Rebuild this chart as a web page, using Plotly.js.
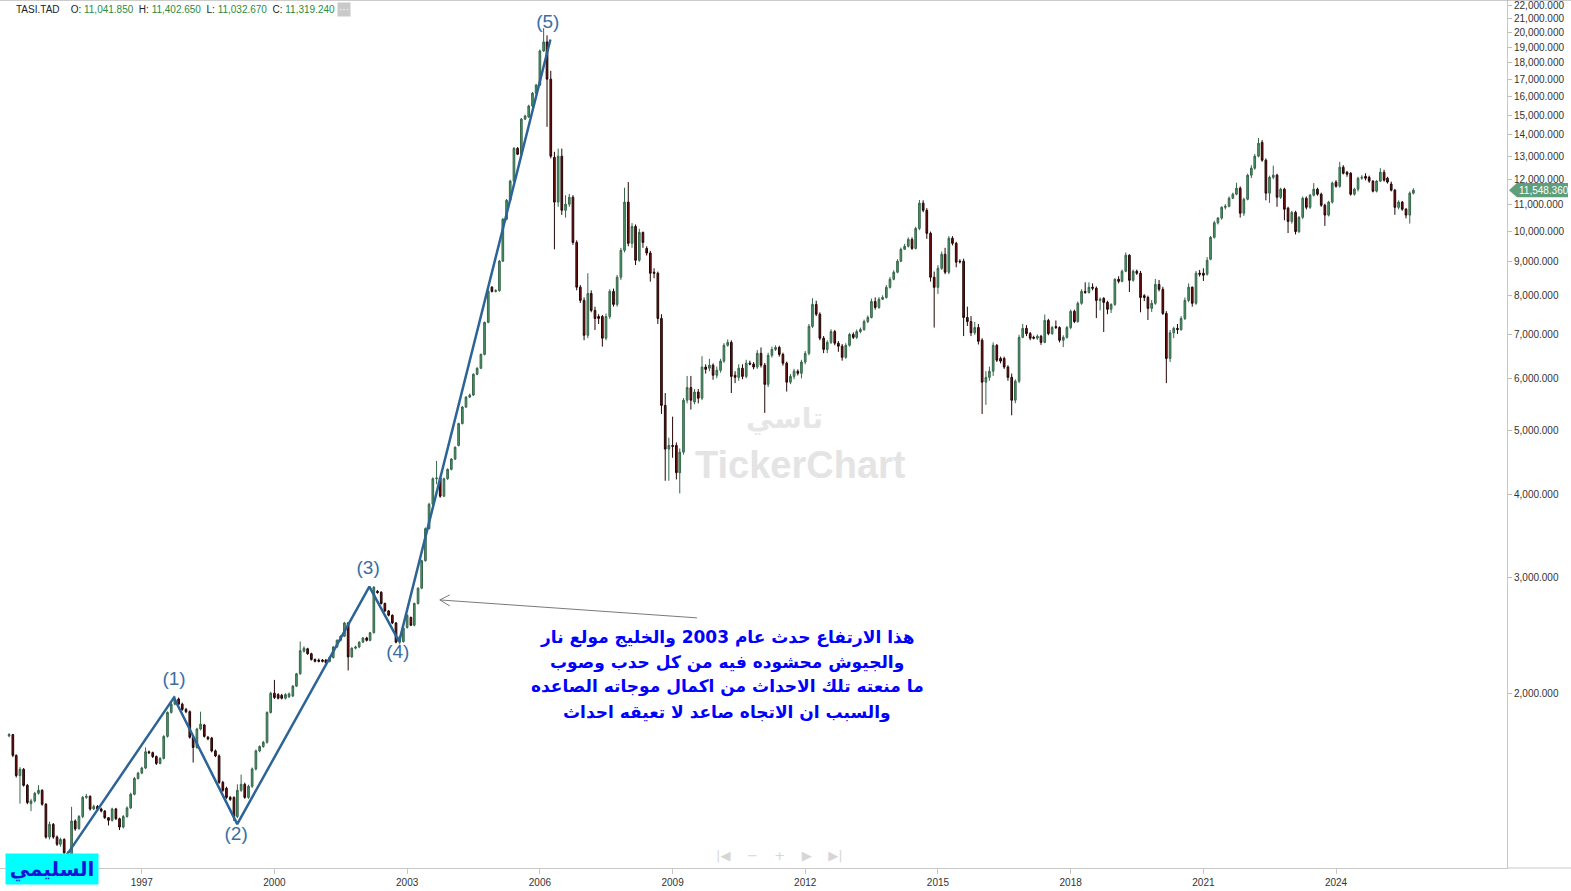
<!DOCTYPE html>
<html>
<head>
<meta charset="utf-8">
<script src="https://cdn.plot.ly/plotly-3.0.1.min.js"></script>
<style>
html,body{margin:0;padding:0;background:#fff;}
#chart{width:1571px;height:891px;}
</style>
</head>
<body>
<div id="chart"></div>
<script>
// ---------------- DATA (monthly TASI candles, Jan 1994 .. Oct 2025) ----------------
const START_YEAR = 1994;

const open = [
1728,1736,1615,1505,1538,1455,1365,1378,1415,1430,1362,1215,
1270,1215,1185,1205,1150,1140,1285,1252,1305,1395,1400,1340,
1352,1340,1330,1300,1288,1340,1295,1258,1305,1345,1410,1490,
1518,1545,1635,1630,1608,1570,1598,1725,1875,1930,1965,1930,
1895,1880,1720,1660,1770,1795,1720,1715,1640,1612,1470,1440,
1395,1395,1305,1430,1460,1395,1450,1540,1640,1665,1690,1875,
2005,1995,1990,1970,1980,1985,2055,2145,2320,2340,2300,2255,
2250,2250,2250,2240,2270,2355,2410,2445,2560,2275,2345,2355,
2395,2430,2410,2475,2860,2850,2740,2670,2630,2560,2395,2400,
2520,2610,2540,2740,2890,3180,3555,3870,4230,4240,3980,4230,
4370,4530,4750,5125,5430,5620,5660,6085,6215,6520,7290,8240,
8120,8140,9020,10440,11150,11920,13360,13090,14790,14900,15480,16190,
16650,18750,19350,17000,12950,11080,13000,10770,11000,11270,9630,8240,
7870,6970,8060,7600,7440,7440,6900,7440,8120,7760,8530,9370,
11080,9600,10180,9050,9970,9430,9280,8680,8650,7390,5460,4690,
4750,4750,4320,4640,5560,5810,5525,5720,5600,6240,6215,6280,
6065,6170,6370,6730,6800,6065,6020,6215,6040,6325,6305,6240,
6545,6280,5875,6500,6635,6680,6520,6325,5920,6040,6150,6105,
6350,6545,7190,7760,7500,6900,6635,6800,7060,6780,6710,6455,
6730,6990,6920,7060,7110,7310,7415,7840,7680,7900,7950,8235,
8470,8680,9020,9400,9500,9730,9430,10110,11040,10770,9940,8530,
8235,8800,9240,8680,9770,9600,9020,9020,7415,7310,7030,7160,
6850,5920,6020,6150,6730,6430,6430,6240,6020,5560,5940,6920,
7140,7010,6920,6900,6945,6800,7340,7010,7185,7160,6850,6920,
7160,7575,7310,7790,8120,8090,8240,8210,7870,7925,7815,7630,
7760,8470,8410,8710,9210,8440,8710,8650,8000,7950,7655,7790,
8320,8180,7520,6430,7030,7140,7110,7390,7870,8240,7790,8650,
8650,8620,9080,9800,10310,10480,10880,10920,11230,11390,11630,10660,
11190,12170,12470,13000,13640,12820,11430,12080,12170,11270,11590,10850,
10360,10690,10000,10510,11230,10880,11350,11590,11390,10960,10590,11080,
11880,11710,12510,12290,12250,11390,11590,12040,12120,12080,11920,11510,
11920,12290,12040,11800,11550,10880,11080,10810,10590,11430
];

const high = [
1745,1740,1620,1550,1545,1462,1388,1422,1455,1435,1368,1282,
1276,1222,1212,1210,1156,1350,1292,1312,1402,1412,1405,1360,
1358,1346,1335,1302,1346,1345,1300,1312,1352,1418,1498,1525,
1552,1660,1642,1636,1614,1605,1732,1882,1940,1985,1975,1940,
1905,1888,1725,1778,1880,1802,1728,1722,1648,1620,1478,1448,
1402,1400,1460,1510,1468,1458,1548,1648,1672,1698,1882,2015,
2100,2005,2000,2005,2010,2062,2152,2400,2360,2348,2308,2262,
2262,2258,2258,2278,2362,2418,2452,2570,2568,2352,2365,2402,
2438,2440,2482,2910,2870,2858,2748,2678,2638,2568,2448,2522,
2638,2618,2748,2898,3190,3570,3890,4250,4500,4260,4245,4385,
4545,4735,5140,5450,5640,5690,6105,6235,6540,7310,8150,8270,
8180,9060,10480,11200,11980,13420,13420,14850,15020,15550,16260,16720,
18850,20300,19800,17500,13200,13350,13350,11350,11400,11350,9700,8300,
7950,8650,8150,7700,7500,7480,7520,8180,8200,8600,9450,11650,
11880,10300,10250,10100,10000,9500,9350,8800,8700,7500,5700,4880,
5250,4800,4700,5600,6050,6050,5780,5780,6480,6300,6420,6320,
6250,6420,6780,6870,6850,6150,6300,6300,6400,6380,6350,6620,
6680,6330,6560,6700,6730,6720,6560,6360,6090,6200,6190,6400,
6600,7250,7930,7860,7550,6950,6850,7120,7100,6830,6760,6780,
7030,7040,7110,7160,7360,7470,7920,7950,7960,8010,8300,8540,
8740,9080,9460,9580,9800,9800,10170,11160,11150,10850,10000,8700,
8900,9330,9450,9840,9840,9650,9080,9100,7700,7450,7300,7250,
6900,6150,6250,6800,6760,6470,6470,6280,6100,5980,6980,7250,
7220,7050,6960,6990,6980,7490,7380,7200,7340,7190,6970,7200,
7620,7620,7840,8180,8380,8380,8350,8260,7950,7960,7860,7790,
8500,8560,8760,9300,9240,8760,8760,8720,8040,8000,7880,8480,
8450,8250,7580,7100,7180,7250,7450,7950,8350,8260,8720,8750,
8800,9150,9850,10380,10520,10920,11000,11300,11450,11850,11700,11250,
12230,12600,13100,13850,13750,12900,12150,12580,12230,11650,11650,10900,
10750,10750,10550,11300,11300,11400,11840,11650,11450,11020,11130,11900,
11960,12750,12600,12350,12300,11650,12100,12170,12250,12150,11960,11960,
12470,12400,12100,11900,11600,11150,11120,10850,11500,11630
];

const low = [
1720,1605,1495,1365,1448,1362,1330,1370,1408,1355,1208,1205,
1208,1178,1175,1142,1130,1135,1242,1246,1298,1388,1332,1335,
1334,1324,1294,1265,1282,1290,1245,1252,1300,1340,1405,1485,
1512,1540,1622,1600,1562,1565,1592,1718,1868,1922,1922,1885,
1870,1712,1575,1652,1762,1718,1702,1632,1605,1462,1422,1388,
1378,1285,1298,1422,1388,1388,1442,1532,1632,1658,1682,1868,
1965,1962,1962,1962,1972,1978,2048,2138,2310,2292,2246,2232,
2232,2232,2222,2232,2262,2348,2402,2438,2170,2268,2335,2345,
2388,2400,2402,2468,2835,2730,2660,2620,2550,2385,2375,2390,
2510,2532,2530,2730,2880,3170,3545,3860,4150,3960,3970,4215,
4355,4515,4735,5110,5410,5600,5640,6065,6195,6500,7270,8090,
8090,8110,9000,10400,11100,11880,13050,13050,14750,14860,15430,16140,
16600,18700,14400,12900,9400,10900,10600,10500,10900,9550,8150,7800,
6850,6900,7550,7100,7250,6700,6850,7380,7700,7700,8450,9300,
9500,9450,8900,9000,9450,9200,8400,8500,7250,5300,4200,4200,
4550,4220,4020,4600,5500,5380,5480,5500,5560,6100,6150,5970,
6000,6120,6330,6700,5700,5900,5950,5980,6000,6280,6190,6200,
6230,5320,5820,6450,6600,6470,6270,5730,5880,5980,6060,6000,
6300,6500,7150,7450,6850,6550,6550,6760,6730,6580,6380,6420,
6700,6880,6880,7020,7080,7270,7390,7620,7640,7880,7920,8200,
8440,8650,8990,9380,9460,9380,9400,10050,10700,9750,8400,7160,
8050,8750,8620,8620,9530,8830,8950,6950,7200,6950,6980,6750,
5300,5470,5950,6050,6350,6320,6200,5950,5275,5500,5900,6900,
6950,6850,6870,6860,6740,6780,6970,6980,7120,6800,6690,6890,
7120,7270,7280,7750,8050,8060,8150,7400,7600,7050,7500,7530,
7720,8350,8380,8680,8100,8400,8600,7550,7850,7350,7560,7750,
8120,7480,5900,6350,6900,7000,7080,7350,7820,7700,7750,8550,
8420,8580,9050,9760,10250,10420,10800,10880,11200,11350,10500,10560,
11150,12050,12400,12950,12750,11150,11050,12000,10900,11200,10400,9950,
10280,9900,9950,10450,10800,10820,11300,11330,10900,10200,10540,11020,
11650,11650,12200,12100,11330,11330,11500,11980,11950,11850,11460,11460,
11880,11900,11820,11500,10600,10800,10750,10470,10280,11380
];

const close = [
1736,1615,1505,1538,1455,1370,1378,1415,1430,1362,1215,1270,
1215,1185,1205,1150,1140,1285,1250,1305,1395,1400,1340,1352,
1340,1330,1300,1288,1340,1295,1258,1305,1345,1410,1490,1518,
1545,1635,1630,1608,1570,1598,1725,1875,1930,1965,1930,1895,
1880,1720,1660,1770,1800,1725,1710,1640,1612,1470,1430,1395,
1385,1305,1430,1460,1395,1450,1540,1640,1665,1690,1875,2005,
1975,1970,1970,1995,2000,2055,2145,2325,2345,2300,2255,2240,
2240,2240,2230,2270,2355,2410,2445,2560,2275,2345,2355,2395,
2430,2410,2475,2900,2845,2740,2670,2630,2560,2395,2440,2515,
2630,2540,2740,2890,3180,3555,3870,4230,4240,3980,4230,4370,
4530,4720,5125,5430,5620,5660,6085,6215,6520,7290,8120,8120,
8140,9020,10440,11150,11920,13360,13090,14790,14950,15480,16190,16650,
18750,19350,17000,13000,11080,13000,10770,11000,11270,9630,8240,7870,
6970,8060,7600,7390,7390,6900,7440,8120,7760,8530,9370,11080,
9600,10180,9050,9970,9630,9280,8650,8650,7390,5460,4690,4750,
4735,4320,4640,5560,5810,5560,5720,5600,6240,6190,6280,6065,
6170,6370,6730,6800,6040,6020,6215,6040,6325,6305,6240,6545,
6280,5875,6500,6635,6680,6520,6325,5920,6040,6150,6105,6350,
6545,7190,7760,7500,6900,6635,6800,7060,6780,6710,6455,6730,
6990,6920,7060,7110,7310,7415,7840,7680,7900,7950,8235,8470,
8680,9020,9400,9500,9730,9430,10110,11040,10770,9940,8530,8235,
8800,9240,8680,9770,9600,8990,9000,7415,7310,7030,7160,6825,
5920,6020,6150,6730,6390,6370,6240,6020,5560,5940,6920,7140,
7010,6900,6900,6945,6800,7340,7010,7160,7160,6850,6920,7160,
7575,7310,7790,8120,8090,8240,8210,7870,7900,7815,7630,7760,
8470,8410,8710,9210,8440,8710,8650,7950,7950,7655,7790,8320,
8180,7520,6430,7030,7140,7110,7390,7870,8240,7790,8650,8620,
8590,9050,9800,10310,10480,10880,10920,11230,11390,11630,10660,11190,
12170,12470,13000,13600,12820,11430,12080,12170,11270,11590,10810,10360,
10690,10000,10510,11230,10880,11350,11590,11390,10960,10590,11080,11840,
11710,12510,12250,12210,11390,11590,12040,12080,12040,11920,11510,11920,
12290,11960,11880,11550,10880,11080,10810,10590,11430,11548
];

// Elliott wave path (1)..(5)
const waveDates  = ['1995-04-20','1997-09-23','1999-02-28','2002-02-23','2002-10-27','2006-03-29'];
const waveValues = [1140, 1974, 1271, 2906, 2399, 19514];
const waveLabels = ['(1)','(2)','(3)','(4)','(5)'];
const waveLabelDates  = ['1997-09-24','1999-02-19','2002-02-13','2002-10-16','2006-03-07'];
const waveLabelValues = [2100, 1224, 3090, 2307, 20660];

// pointer arrow (chevron + shaft)
const arrowDates  = ['2003-12-19','2003-09-28','2003-12-19', null, '2003-09-28','2009-07-21'];
const arrowValues = [2823, 2774, 2717, null, 2774, 2606];

// axis ticks
const yTickVals = [2000,3000,4000,5000,6000,7000,8000,9000,10000,11000,12000,13000,14000,15000,16000,17000,18000,19000,20000,21000,22000];
const xTickYears = ['1997','2000','2003','2006','2009','2012','2015','2018','2021','2024'];

const header = {symbol:'TASI.TAD', O:'11,041.850', H:'11,402.650', L:'11,032.670', C:'11,319.240'};
const lastPrice = 11548.36;

const noteLines = [
  'هذا الارتفاع حدث عام 2003 والخليج مولع نار',
  'والجيوش محشوده فيه من كل حدب وصوب',
  'ما منعته تلك الاحداث من اكمال موجاته الصاعده',
  'والسبب ان الاتجاه صاعد لا تعيقه احداث'
];
const signature = 'السليمي';

// ---------------- CHART ----------------
const months = close.map((_, k) => `${START_YEAR + Math.floor(k / 12)}-${String(k % 12 + 1).padStart(2, '0')}-01`);
const Y0 = Math.log10(1091), Y1 = Math.log10(22392);
const yPaper = v => (Math.log10(v) - Y0) / (Y1 - Y0);
const PLOT_H = 868;
const pyToPaper = py => (PLOT_H - py) / PLOT_H;

const candles = {
  type: 'candlestick',
  x: months, open: open, high: high, low: low, close: close,
  increasing: {line: {color: '#35664a', width: 1}, fillcolor: '#4c9a6c'},
  decreasing: {line: {color: '#220505', width: 1}, fillcolor: '#7a1010'},
  whiskerwidth: 0,
  hoverinfo: 'skip',
  showlegend: false
};

const wave = {
  type: 'scatter', mode: 'lines',
  x: waveDates, y: waveValues,
  line: {color: '#2c6496', width: 2.5},
  hoverinfo: 'skip', showlegend: false
};

const waveText = {
  type: 'scatter', mode: 'text',
  x: waveLabelDates, y: waveLabelValues, text: waveLabels,
  textfont: {family: 'Liberation Sans, Arial, sans-serif', size: 19, color: '#3a6ea5'},
  hoverinfo: 'skip', showlegend: false, cliponaxis: false
};

const arrow = {
  type: 'scatter', mode: 'lines',
  x: arrowDates, y: arrowValues, connectgaps: false,
  line: {color: '#7a7a7a', width: 1},
  hoverinfo: 'skip', showlegend: false
};

const nb = '\u00a0';
const g = s => `<span style="color:#2b8a3e">${s}</span>`;
const headerText = `${header.symbol}${nb}${nb}${nb}${nb}O:${nb}${g(header.O)}${nb}${nb}H:${nb}${g(header.H)}${nb}${nb}L:${nb}${g(header.L)}${nb}${nb}C:${nb}${g(header.C)}`;

const noteAnnotations = noteLines.map((line, k) => ({
  xref: 'paper', yref: 'paper', x: 727 / 1507, y: pyToPaper(637 + 25 * k),
  xanchor: 'center', yanchor: 'middle', showarrow: false,
  text: '<b>' + line + '</b>',
  font: {family: 'DejaVu Sans, sans-serif', size: 17, color: '#0000ff'}
}));

const layout = {
  width: 1571, height: 891,
  margin: {l: 0, r: 64, t: 0, b: 23, pad: 0},
  paper_bgcolor: '#ffffff', plot_bgcolor: '#ffffff',
  showlegend: false,
  font: {family: 'Liberation Sans, Arial, sans-serif', size: 10, color: '#333'},
  xaxis: {
    type: 'date',
    range: ['1993-10-18', '2027-11-13'],
    rangeslider: {visible: false},
    showgrid: false, zeroline: false,
    showline: true, linecolor: '#c8c8c8', linewidth: 1,
    ticks: 'outside', ticklen: 5, tickcolor: '#c8c8c8',
    tickvals: xTickYears.map(y => y + '-01-01'),
    ticktext: xTickYears,
    tickfont: {family: 'Liberation Sans, Arial, sans-serif', size: 10, color: '#333'},
    automargin: false, fixedrange: true
  },
  yaxis: {
    type: 'log', side: 'right',
    range: [Y0, Y1],
    showgrid: false, zeroline: false,
    showline: true, linecolor: '#c8c8c8', linewidth: 1,
    ticks: 'outside', ticklen: 4, tickcolor: '#bdbdbd',
    tickvals: yTickVals,
    ticktext: yTickVals.map(v => v.toLocaleString('en-US', {minimumFractionDigits: 3, maximumFractionDigits: 3})),
    tickfont: {family: 'Liberation Sans, Arial, sans-serif', size: 10, color: '#333'},
    ticklabeloverflow: 'allow',
    automargin: false, fixedrange: true
  },
  shapes: [
    {type: 'line', xref: 'paper', yref: 'paper', x0: 0, x1: 1.0425, y0: 1, y1: 1, line: {color: '#9a9a9a', width: 1}},
    {type: 'line', xref: 'paper', yref: 'paper', x0: 1, x1: 1.0425, y0: 0, y1: 0, line: {color: '#c8c8c8', width: 1}},
    {type: 'path', xref: 'paper', yref: 'paper', fillcolor: '#5e9e7a', line: {width: 0},
     path: `M 1.0013 ${yPaper(lastPrice)} L 1.0066 ${yPaper(lastPrice) + 0.0082} L 1.0405 ${yPaper(lastPrice) + 0.0082} L 1.0405 ${yPaper(lastPrice) - 0.0082} L 1.0066 ${yPaper(lastPrice) - 0.0082} Z`}
  ],
  annotations: [
    {xref: 'paper', yref: 'paper', x: 0.0096, y: 0.9885, xanchor: 'left', yanchor: 'middle', showarrow: false,
     text: headerText, font: {family: 'Liberation Sans, Arial, sans-serif', size: 10, color: '#222'}},
    {xref: 'paper', yref: 'paper', x: 0.2236, y: 0.9885, xanchor: 'left', yanchor: 'middle', showarrow: false,
     text: '···', bgcolor: '#c9c9c9', borderpad: 1, font: {family: 'Liberation Sans, Arial, sans-serif', size: 10, color: '#ffffff'}},
    {xref: 'paper', yref: 'paper', x: 0.5209, y: pyToPaper(418), xanchor: 'center', yanchor: 'middle', showarrow: false,
     text: '<b>تاسي</b>', font: {family: 'DejaVu Sans, sans-serif', size: 28, color: '#e6e6e6'}},
    {xref: 'paper', yref: 'paper', x: 0.5315, y: pyToPaper(465), xanchor: 'center', yanchor: 'middle', showarrow: false,
     text: '<b>TickerChart</b>', font: {family: 'Liberation Sans, Arial, sans-serif', size: 38, color: '#e4e4e4'}},
    ...noteAnnotations,
    {xref: 'paper', yref: 'paper', x: 0.0033, y: pyToPaper(869), xanchor: 'left', yanchor: 'middle', showarrow: false,
     text: '<b>' + signature + '</b>', bgcolor: '#00ffff', width: 90, height: 28, borderpad: 1,
     font: {family: 'DejaVu Sans, sans-serif', size: 20, color: '#1414d8'}},
    {xref: 'paper', yref: 'paper', x: 779 / 1507, y: pyToPaper(855), xanchor: 'center', yanchor: 'middle', showarrow: false,
     text: '|◀' + nb + nb + nb + nb + '−' + nb + nb + nb + nb + '+' + nb + nb + nb + nb + '▶' + nb + nb + nb + nb + '▶|',
     font: {family: 'DejaVu Sans, sans-serif', size: 13, color: '#d6d6d6'}},
    {xref: 'paper', yref: 'paper', x: 1.0066, y: yPaper(lastPrice), xanchor: 'left', yanchor: 'middle', showarrow: false,
     text: lastPrice.toLocaleString('en-US', {minimumFractionDigits: 3, maximumFractionDigits: 3}),
     font: {family: 'Liberation Sans, Arial, sans-serif', size: 10, color: '#ffffff'}}
  ]
};

Plotly.newPlot('chart', [candles, wave, arrow, waveText], layout, {displayModeBar: false, staticPlot: true});
</script>
</body>
</html>
